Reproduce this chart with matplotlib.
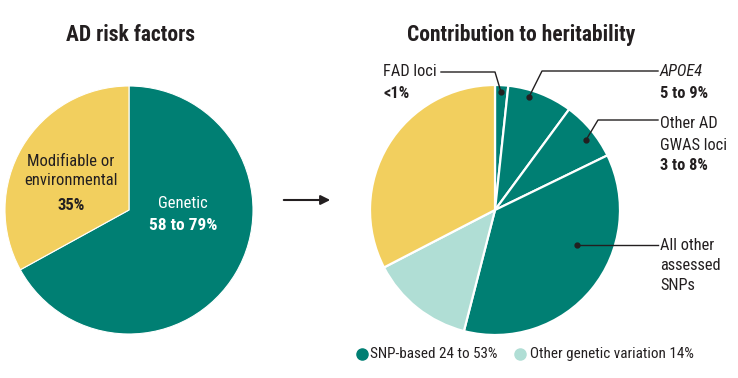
import matplotlib
matplotlib.use("Agg")
from matplotlib import pyplot as plt
from matplotlib import font_manager

# data
left_labels = ["Genetic", "Modifiable or environmental"]
left_values = [67, 33]
right_labels = ["FAD loci", "APOE4", "Other AD GWAS loci", "All other assessed SNPs",
                "Other genetic variation", "Modifiable or environmental"]
right_values = [1.7, 8.4, 7.7, 36.2, 13.4, 32.6]

TEAL = "#007F73"
YELLOW = "#F2CF5E"
MINT = "#B0DED5"
INK = "#231F20"

names = {f.name for f in font_manager.fontManager.ttflist}
for cand in ["Roboto Condensed", "Archivo Narrow", "Sofia Sans Condensed", "Roboto"]:
    if cand in names:
        break
plt.rcParams["font.family"] = [cand, "DejaVu Sans"]

W, H = 738, 378
fig = plt.figure(figsize=(W / 100, H / 100), dpi=100)
ax = fig.add_axes([0, 0, 1, 1])


def P(x, y):
    # picture pixel coords -> axes coords
    return x, H - y


ax.pie(left_values, colors=[TEAL, YELLOW], startangle=90, counterclock=False,
       center=P(129, 210), radius=124,
       wedgeprops=dict(edgecolor="white", linewidth=0.8))
ax.pie(right_values, colors=[TEAL, TEAL, TEAL, TEAL, MINT, YELLOW], startangle=90,
       counterclock=False, center=P(495, 210), radius=125,
       wedgeprops=dict(edgecolor="white", linewidth=1.6))

ax.set_xlim(0, W)
ax.set_ylim(0, H)
ax.set_aspect("equal")
ax.axis("off")

FL = 12     # left pie labels
FR = 11.8   # right callouts

# titles
ax.text(*P(130, 35), "AD risk factors", fontsize=15.5, fontweight="bold", color=INK,
        ha="center", va="center")
ax.text(*P(521, 35), "Contribution to heritability", fontsize=15.5, fontweight="bold",
        color=INK, ha="center", va="center")

# left pie labels
ax.text(*P(71, 171), "Modifiable or\nenvironmental", fontsize=FL, color=INK,
        ha="center", va="center", linespacing=1.3)
ax.text(*P(71, 205), "35%", fontsize=FL, fontweight="bold", color=INK, ha="center", va="center")
ax.text(*P(183, 203), "Genetic", fontsize=FL, color="white", ha="center", va="center")
ax.text(*P(183, 226), "58 to 79%", fontsize=FL + 0.5, fontweight="bold", color="white",
        ha="center", va="center")

# arrow between pies
ax.annotate("", xy=P(333, 200), xytext=P(281, 200),
            arrowprops=dict(arrowstyle="-|>", color=INK, lw=1.5, mutation_scale=14))


def callout(pts, dot):
    xs, ys = zip(*[P(*p) for p in pts])
    ax.plot(xs, ys, color=INK, lw=1)
    ax.plot(*P(*dot), "o", color=INK, ms=3.5)


# FAD loci
callout([(441, 72), (495, 72), (501, 92)], (501, 92))
ax.text(*P(383, 72), "FAD loci", fontsize=FR, color=INK, ha="left", va="center")
ax.text(*P(383, 93), "<1%", fontsize=FR, fontweight="bold", color=INK, ha="left", va="center")

# APOE4
callout([(529, 97), (542, 71), (658, 71)], (529, 97))
ax.text(*P(660, 72), "APOE4", fontsize=FR, style="italic", color=INK, ha="left", va="center")
ax.text(*P(660, 93), "5 to 9%", fontsize=FR, fontweight="bold", color=INK, ha="left", va="center")

# Other AD GWAS loci
callout([(586, 140), (598, 120), (658, 120)], (586, 140))
ax.text(*P(660, 124), "Other AD", fontsize=FR, color=INK, ha="left", va="center")
ax.text(*P(660, 145), "GWAS loci", fontsize=FR, color=INK, ha="left", va="center")
ax.text(*P(660, 165), "3 to 8%", fontsize=FR, fontweight="bold", color=INK, ha="left", va="center")

# All other assessed SNPs
callout([(577, 245), (658, 245)], (577, 245))
ax.text(*P(660, 245), "All other", fontsize=FR, color=INK, ha="left", va="center")
ax.text(*P(660, 265), "assessed", fontsize=FR, color=INK, ha="left", va="center")
ax.text(*P(660, 285), "SNPs", fontsize=FR, color=INK, ha="left", va="center")

# legend
ax.plot(*P(362, 354), "o", color=TEAL, ms=8)
ax.text(*P(370, 354), "SNP-based 24 to 53%", fontsize=10.9, color=INK, ha="left", va="center")
ax.plot(*P(520, 354), "o", color=MINT, ms=8)
ax.text(*P(530, 354), "Other genetic variation 14%", fontsize=10.9, color=INK, ha="left", va="center")

fig.savefig("out.png", dpi=100)
